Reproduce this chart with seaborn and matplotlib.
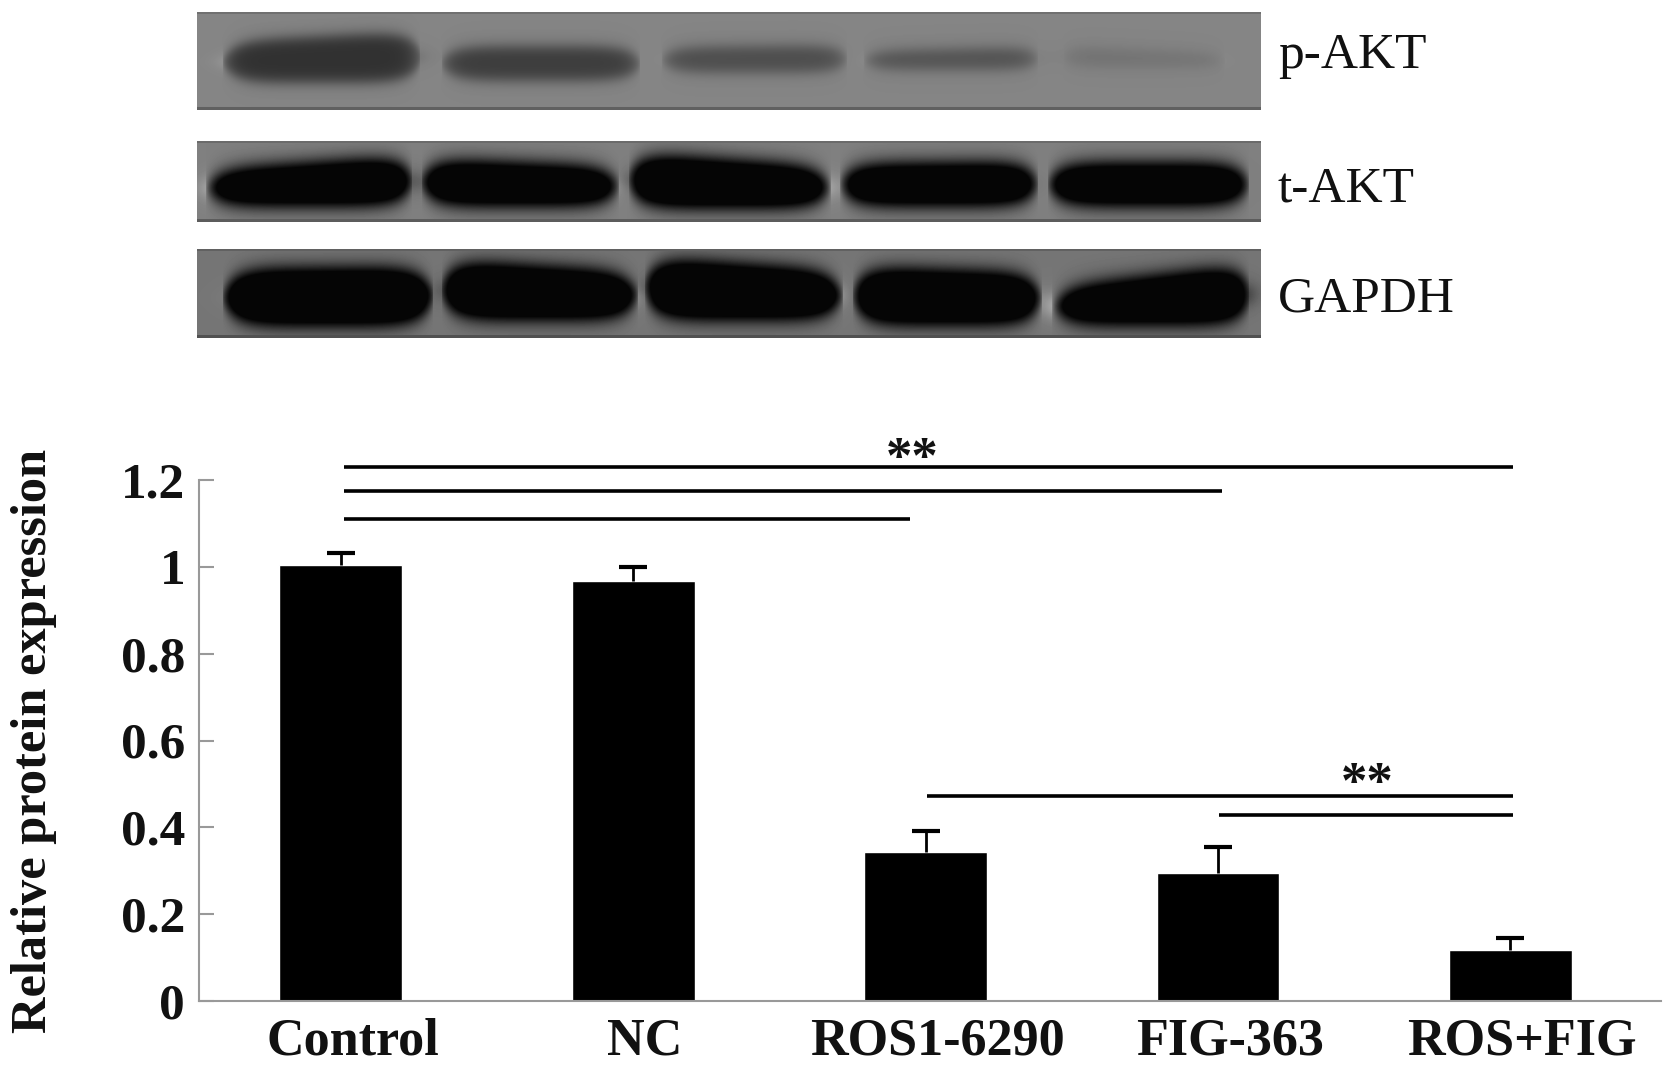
import numpy as np
import pandas as pd
import seaborn as sns
import matplotlib
matplotlib.use("Agg")
import matplotlib.pyplot as plt

# bar chart values
groups = ["Control", "NC", "ROS1-6290", "FIG-363", "ROS+FIG"]
expression = [1.005, 0.968, 0.343, 0.295, 0.117]
err_upper = [0.027, 0.032, 0.049, 0.06, 0.028]
y_ticks = [0, 0.2, 0.4, 0.6, 0.8, 1, 1.2]
y_labels = ["0", "0.2", "0.4", "0.6", "0.8", "1", "1.2"]

# significance lines: height, start, end (x in category units)
sig_height = [1.23, 1.175, 1.111, 0.473, 0.429]
sig_start = [0.01, 0.01, 0.01, 2.006, 3.005]
sig_end = [4.01, 3.012, 1.945, 4.01, 4.01]

# blots, in reference pixels
blot_names = ["p-AKT", "t-AKT", "GAPDH"]
blot_label_y = [56, 189, 299]
blot_top = [12, 141, 249]
blot_bottom = [110, 222, 338]
blot_bg = [0.52, 0.50, 0.46]
band_left = [[222, 441, 661, 863, 1063],
             [205, 421, 628, 839, 1047],
             [222, 441, 644, 852, 1051]]
band_right = [[420, 640, 847, 1038, 1225],
              [412, 619, 831, 1038, 1249],
              [433, 638, 843, 1042, 1249]]
band_upper = [[36, 46, 46, 49, 50],
              [163, 163, 160, 163, 163],
              [268, 266, 264, 270, 276]]
band_lower = [[82, 80, 72, 69, 67],
              [205, 205, 207, 205, 205],
              [325, 319, 319, 324, 324]]
band_tilt = [[-5, 0, -1, -2, 4],
             [-7, 4, 7, -1, 0],
             [-1, 6, 7, 3, -12]]
band_dark = [[0.22, 0.19, 0.15, 0.14, 0.05],
             [0.50, 0.50, 0.50, 0.50, 0.50],
             [0.46, 0.46, 0.46, 0.46, 0.46]]

W, H = 1677, 1067
sns.set_theme(style="white")
plt.rcParams["font.family"] = ["Liberation Serif", "DejaVu Serif"]

fig = plt.figure(figsize=(W / 100, H / 100), dpi=100)


def px_axes(x0, y0, x1, y1):
    return fig.add_axes([x0 / W, 1 - y1 / H, (x1 - x0) / W, (y1 - y0) / H])


# western blot panels
blot_x0, blot_x1 = 197, 1261
for i, name in enumerate(blot_names):
    ax_b = px_axes(blot_x0, blot_top[i], blot_x1, blot_bottom[i])
    yy, xx = np.mgrid[blot_top[i]:blot_bottom[i], blot_x0:blot_x1]
    img = np.full(xx.shape, blot_bg[i], dtype=float)
    soft_y = 8 if i == 0 else 11
    for j in range(5):
        l, r = band_left[i][j], band_right[i][j]
        up, lo = band_upper[i][j], band_lower[i][j]
        u = (xx - (l + r) / 2) / ((r - l) / 2)
        # band height closes towards both ends, upper edge tilted per band
        f = np.sqrt((1 - np.abs(u) ** 5).clip(0, 1))
        cy, hh = (up + lo) / 2, (lo - up) / 2
        y_up = cy - hh * f + band_tilt[i][j] * u
        y_lo = cy + hh * f
        mask = (np.tanh((xx - l) / 13) - np.tanh((xx - r) / 13)) / 2
        mask = mask * (np.tanh((yy - y_up) / soft_y) - np.tanh((yy - y_lo) / soft_y)) / 2
        img -= band_dark[i][j] * mask * 1.5
    img = img.clip(0.02, 1)
    img[-3:, :] = blot_bg[i] - 0.14
    img[:2, :] = blot_bg[i] - 0.08
    ax_b.imshow(img, cmap="gray", vmin=0, vmax=1, aspect="auto", interpolation="bilinear")
    ax_b.axis("off")
    fig.text(1278 / W, 1 - blot_label_y[i] / H, name,
             fontsize=37, color="#111111", va="center", ha="left")

# bar chart
df = pd.DataFrame({"group": groups, "value": expression})
ax = px_axes(199, 480, 1661, 1001)
sns.barplot(data=df, x="group", y="value", color="black", saturation=1, width=0.42, ax=ax)
eb = ax.errorbar(range(len(groups)), expression, yerr=[[0] * 5, err_upper], fmt="none",
                 ecolor="black", elinewidth=2, capsize=10, capthick=3)
eb.lines[1][0].set_visible(False)

for h, s, e in zip(sig_height, sig_start, sig_end):
    ax.plot([s, e], [h, h], color="black", lw=2.6, clip_on=False, solid_capstyle="butt")
ax.text(1.955, 1.215, "**", fontsize=38, fontweight="bold", ha="center", va="baseline", color="#111111")
ax.text(3.51, 0.467, "**", fontsize=38, fontweight="bold", ha="center", va="baseline", color="#111111")

ax.set_xlim(-0.485, 4.515)
ax.set_ylim(0, 1.2)
ax.set_xlabel("")
ax.set_ylabel("Relative protein expression", fontsize=36.4, fontweight="bold", color="#111111")
ax.yaxis.set_label_coords(-0.097, 0.5)
ax.set_yticks(y_ticks)
ax.set_yticklabels(y_labels, fontsize=37, fontweight="bold", color="#111111")
# ticks sit between the groups, labels on minor ticks
ax.set_xticks([0.515, 1.515, 2.515, 3.515, 4.515])
ax.set_xticklabels([])
ax.set_xticks([i + 0.04 for i in range(5)], minor=True)
ax.set_xticklabels(groups, minor=True, fontsize=37.5, fontweight="bold", color="#111111")
ax.tick_params(axis="x", which="major", direction="in", length=11, width=1, color="#888888")
ax.tick_params(axis="x", which="minor", length=0, pad=12)
ax.tick_params(axis="y", direction="in", length=11, width=1.5, color="#999999", pad=10, left=True)
for side in ["top", "right"]:
    ax.spines[side].set_visible(False)
for side in ["left", "bottom"]:
    ax.spines[side].set_color("#999999")
    ax.spines[side].set_linewidth(1.5)

fig.savefig("out.png", dpi=100)
